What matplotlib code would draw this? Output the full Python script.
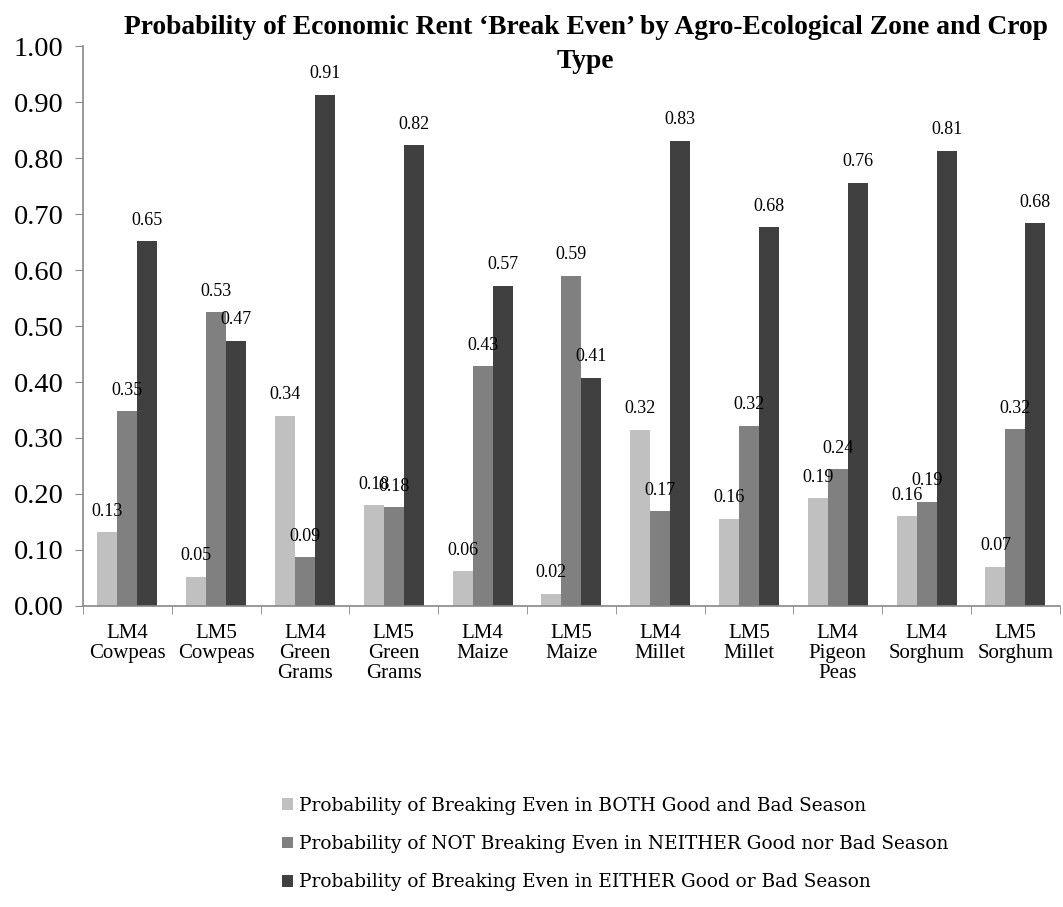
import matplotlib
matplotlib.use("Agg")
import matplotlib.pyplot as plt
import numpy as np

categories = ["LM4\nCowpeas", "LM5\nCowpeas", "LM4\nGreen\nGrams", "LM5\nGreen\nGrams",
              "LM4\nMaize", "LM5\nMaize", "LM4\nMillet", "LM5\nMillet",
              "LM4\nPigeon\nPeas", "LM4\nSorghum", "LM5\nSorghum"]
series_names = ["Probability of Breaking Even in BOTH Good and Bad Season",
                "Probability of NOT Breaking Even in NEITHER Good nor Bad Season",
                "Probability of Breaking Even in EITHER Good or Bad Season"]
both = [0.132, 0.052, 0.340, 0.180, 0.062, 0.022, 0.315, 0.156, 0.192, 0.160, 0.070]
neither = [0.348, 0.525, 0.087, 0.176, 0.428, 0.590, 0.169, 0.322, 0.244, 0.186, 0.316]
either = [0.652, 0.474, 0.913, 0.823, 0.572, 0.408, 0.831, 0.677, 0.756, 0.813, 0.684]
yticks = [0.0, 0.1, 0.2, 0.3, 0.4, 0.5, 0.6, 0.7, 0.8, 0.9, 1.0]
title_lines = ["Probability of Economic Rent \u2018Break Even\u2019 by Agro-Ecological Zone and Crop",
               "Type"]

colors = ["#c0c0c0", "#808080", "#404040"]
serif = "Liberation Serif"

fig = plt.figure(figsize=(10.63, 9.07), dpi=100)
ax = fig.add_axes([0.078, 0.332, 0.919, 0.617])

x = np.arange(len(categories))
w = 0.225
handles = []
for i, (vals, c, name) in enumerate(zip([both, neither, either], colors, series_names)):
    pos = x + (i - 1) * w
    b = ax.bar(pos, vals, width=w, color=c, label=name, zorder=2)
    handles.append(b)
    for px, v in zip(pos, vals):
        ax.annotate(f"{v:.2f}", (px, v), xytext=(0, 9), textcoords="offset points",
                    ha="center", va="bottom", fontsize=13, family=serif)

ax.set_xlim(-0.5, len(categories) - 0.5)
ax.set_ylim(0, 1.0)
ax.set_yticks(yticks)
ax.set_yticklabels([f"{t:.2f}" for t in yticks], fontsize=20.5, family=serif)
ax.set_xticks(x)
ax.set_xticklabels(categories, fontsize=15, family=serif, linespacing=1.08, va="top")
ax.set_xticks(np.arange(len(categories) + 1) - 0.5, minor=True)
ax.tick_params(axis="x", which="major", length=0, pad=13)
ax.tick_params(axis="x", which="minor", length=6, color="#888888", direction="out")
ax.tick_params(axis="y", length=6, color="#888888", direction="out", pad=8)
for s in ["top", "right"]:
    ax.spines[s].set_visible(False)
for s in ["left", "bottom"]:
    ax.spines[s].set_color("#888888")
    ax.spines[s].set_linewidth(1.2)

fig.text(0.551, 1 - 28 / 907, title_lines[0], ha="center", va="center", fontsize=19.8,
         fontweight="bold", family=serif)
fig.text(0.551, 1 - 62 / 907, title_lines[1], ha="center", va="center", fontsize=19.8,
         fontweight="bold", family=serif)

leg = fig.legend(handles=handles, labels=series_names, loc="upper left",
                 bbox_to_anchor=(0.25, 0.14), frameon=False,
                 prop={"family": "DejaVu Serif", "size": 13.3},
                 handlelength=0.6, handleheight=0.6, handletextpad=0.3,
                 labelspacing=1.1)

fig.savefig("out.png", dpi=100)
